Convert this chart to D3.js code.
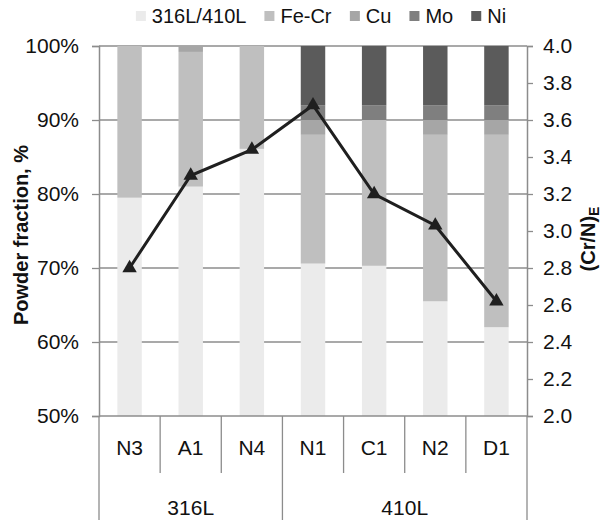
<!DOCTYPE html>
<html>
<head>
<meta charset="utf-8">
<script src="https://cdn.jsdelivr.net/npm/d3@7"></script>
<style>
  html, body { margin: 0; padding: 0; background: #fff; }
  svg { display: block; font-family: "Liberation Sans", Arial, Helvetica, sans-serif; }
</style>
</head>
<body>
<svg id="chart" width="606" height="521"></svg>
<script>
// Powder composition per blend (stacked, %), with the equivalent Cr/Ni ratio on the right axis
const categories = ["N3", "A1", "N4", "N1", "C1", "N2", "D1"];
const groupNames = ["316L", "410L"];
const groupSizes = [3, 4];
const seriesNames = ["316L/410L", "Fe-Cr", "Cu", "Mo", "Ni"];
const baseSteel = [79.5, 81.0, 86.1, 70.6, 70.3, 65.5, 62.0];
const feCr      = [20.5, 18.2, 13.9, 17.4, 19.7, 22.5, 26.0];
const cu        = [0.0, 0.8, 0.0, 2.0, 0.0, 2.0, 2.0];
const mo        = [0.0, 0.0, 0.0, 2.0, 2.0, 2.0, 2.0];
const ni        = [0.0, 0.0, 0.0, 8.0, 8.0, 8.0, 8.0];
const crNiRatio = [2.80, 3.30, 3.44, 3.68, 3.20, 3.03, 2.62];
const leftTicks = [50, 60, 70, 80, 90, 100];
const rightTicks = [2.0, 2.2, 2.4, 2.6, 2.8, 3.0, 3.2, 3.4, 3.6, 3.8, 4.0];

const colors = ["#ebebeb", "#bfbfbf", "#a6a6a6", "#7f7f7f", "#5b5b5b"];
const gridColor = "#8c8c8c";
const inkColor = "#111";

const svg = d3.select("#chart");
const L = 99, R = 527, T = 46, B = 416;

const x = d3.scaleBand().domain(categories).range([L, R]).paddingInner(0.6).paddingOuter(0.3);
const y = d3.scaleLinear().domain([50, 100]).range([B, T]);
const y2 = d3.scaleLinear().domain([2, 4]).range([B, T]);

// table for the stack layout
const table = categories.map((c, i) => ({
  cat: c,
  "316L/410L": baseSteel[i], "Fe-Cr": feCr[i], "Cu": cu[i], "Mo": mo[i], "Ni": ni[i]
}));
const stacked = d3.stack().keys(seriesNames)(table);

// horizontal gridlines
svg.append("g").selectAll("line").data(leftTicks.filter(t => t > 50)).join("line")
  .attr("x1", L).attr("x2", R)
  .attr("y1", d => y(d)).attr("y2", d => y(d))
  .attr("stroke", gridColor).attr("stroke-width", 1.3);

// stacked bars (clipped to the 50–100 % window)
svg.append("g").selectAll("g").data(stacked).join("g")
  .attr("fill", (d, i) => colors[i])
  .selectAll("rect").data(d => d).join("rect")
  .attr("x", d => x(d.data.cat))
  .attr("width", x.bandwidth())
  .attr("y", d => y(Math.min(100, d[1])))
  .attr("height", d => Math.max(0, y(Math.max(50, d[0])) - y(Math.min(100, d[1]))));

// left axis
const axL = svg.append("g").attr("transform", `translate(${L},0)`)
  .call(d3.axisLeft(y).tickValues(leftTicks).tickFormat(d => d + "%").tickSize(7).tickPadding(13));
// right axis
const axR = svg.append("g").attr("transform", `translate(${R},0)`)
  .call(d3.axisRight(y2).tickValues(rightTicks).tickFormat(d3.format(".1f")).tickSize(6).tickPadding(10));
[axL, axR].forEach(a => {
  a.select(".domain").attr("stroke", gridColor).attr("stroke-width", 1.5);
  a.selectAll(".tick line").attr("stroke", gridColor).attr("stroke-width", 1.3);
  a.selectAll(".tick text").attr("fill", inkColor).style("font-size", "21px");
});

// category axis: baseline, separators and two-level labels
const cat = svg.append("g");
cat.append("line").attr("x1", L).attr("x2", R).attr("y1", B).attr("y2", B)
  .attr("stroke", gridColor).attr("stroke-width", 1.5);
const step = x.step();
const edges = d3.range(categories.length + 1).map(i => L + i * step);
const groupEdgeIdx = [0];
groupSizes.forEach(s => groupEdgeIdx.push(groupEdgeIdx[groupEdgeIdx.length - 1] + s));
cat.selectAll("line.sep").data(edges).join("line").attr("class", "sep")
  .attr("x1", d => d).attr("x2", d => d)
  .attr("y1", B)
  .attr("y2", (d, i) => groupEdgeIdx.includes(i) ? 520 : 473)
  .attr("stroke", gridColor).attr("stroke-width", 1.3);
cat.selectAll("text.cat").data(categories).join("text").attr("class", "cat")
  .attr("x", d => x(d) + x.bandwidth() / 2).attr("y", 447)
  .attr("text-anchor", "middle").attr("dominant-baseline", "central")
  .style("font-size", "21px").attr("fill", inkColor).text(d => d);
cat.selectAll("text.grp").data(groupNames).join("text").attr("class", "grp")
  .attr("x", (d, i) => (edges[groupEdgeIdx[i]] + edges[groupEdgeIdx[i + 1]]) / 2).attr("y", 507)
  .attr("text-anchor", "middle").attr("dominant-baseline", "central")
  .style("font-size", "21px").attr("fill", inkColor).text(d => d);

// ratio line with triangle markers
const cx = c => x(c) + x.bandwidth() / 2;
svg.append("path")
  .datum(categories.map((c, i) => [cx(c), y2(crNiRatio[i])]))
  .attr("d", d3.line())
  .attr("fill", "none").attr("stroke", "#1f1f1f").attr("stroke-width", 3);
svg.append("g").selectAll("path").data(categories).join("path")
  .attr("transform", (c, i) => `translate(${cx(c)},${y2(crNiRatio[i])})`)
  .attr("d", d3.symbol(d3.symbolTriangle, 90))
  .attr("fill", "#1f1f1f");

// axis titles
svg.append("text")
  .attr("transform", `translate(21,${(T + B) / 2 + 4}) rotate(-90)`)
  .attr("text-anchor", "middle").attr("dominant-baseline", "central")
  .style("font-size", "20px").style("font-weight", "bold").attr("fill", inkColor)
  .text("Powder fraction, %");
const rt = svg.append("text")
  .attr("transform", `translate(588,${(T + B) / 2 + 8}) rotate(-90)`)
  .attr("text-anchor", "middle").attr("dominant-baseline", "central")
  .style("font-size", "20px").style("font-weight", "bold").attr("fill", inkColor);
rt.append("tspan").text("(Cr/N)");
rt.append("tspan").attr("dy", 6).style("font-size", "14px").text("E");

// legend
const leg = svg.append("g");
const items = leg.selectAll("g").data(seriesNames).join("g");
items.append("rect").attr("width", 10).attr("height", 10).attr("y", -5)
  .attr("fill", (d, i) => colors[i]);
items.append("text").attr("x", 16).attr("dominant-baseline", "central")
  .style("font-size", "20px").attr("fill", inkColor).text(d => d);
let acc = 0;
const widths = [];
items.each(function () { widths.push(this.getBBox().width); });
const gapBetween = 18;
const total = d3.sum(widths) + gapBetween * (widths.length - 1);
const start = 321 - total / 2;
items.attr("transform", (d, i) => {
  const px = start + acc;
  acc += widths[i] + gapBetween;
  return `translate(${px},16)`;
});
</script>
</body>
</html>
